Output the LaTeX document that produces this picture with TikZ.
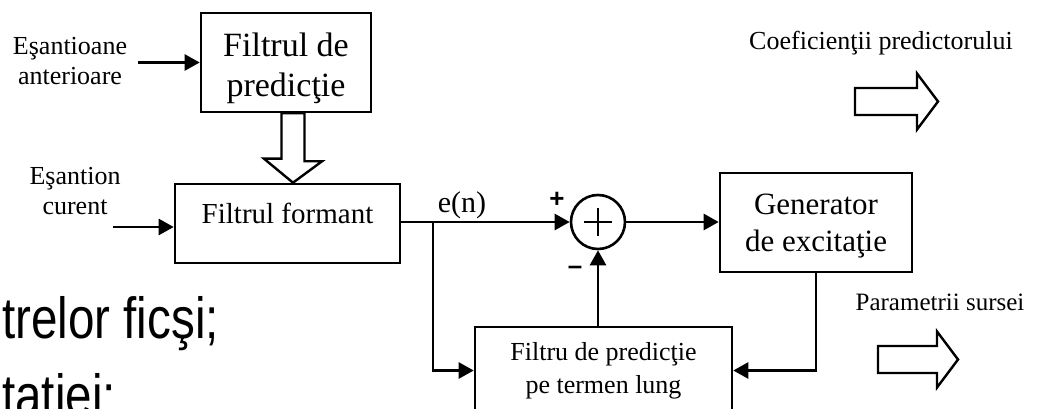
\documentclass[tikz,border=0pt]{standalone}
\usepackage{fontspec}
\usepackage{graphicx}
\setmainfont{Liberation Serif}
\newfontfamily\slidefont{Liberation Sans}
\usetikzlibrary{arrows.meta}

\tikzset{
  blk/.style={draw, line width=2.6pt, inner sep=0pt, align=center},
  sig/.style={line width=2.6pt, -{Triangle[length=15pt,width=16pt]}},
  hollow/.style={draw, line width=2.4pt, line join=miter},
  lbl/.style={align=center, inner sep=0pt, font=\fontsize{26}{30}\selectfont},
  sgn/.style={inner sep=0pt, font=\slidefont\bfseries\fontsize{26}{30}\selectfont},
}

\begin{document}
\begin{tikzpicture}[x=1pt,y=-1pt]
    \useasboundingbox (0,0) rectangle (1039,409);
    \clip (0,0) rectangle (1039,409);

    % slide text behind the diagram
    \node[anchor=base west, inner sep=0pt] (slideA) at (2,338)
        {\scalebox{0.82}[1]{\slidefont\fontsize{58}{70}\selectfont trelor ficşi;}};
    \node[anchor=base west, inner sep=0pt] (slideB) at (2,415)
        {\scalebox{0.82}[1]{\slidefont\fontsize{58}{70}\selectfont taţiei;}};

    % blocks
    \node[blk, minimum width=170pt, minimum height=99pt] (pred) at (286,62.5) {};
    \node[align=center, inner sep=0pt, font=\fontsize{34}{40}\selectfont] (predtxt) at (286,68.5) {Filtrul de\\predicţie};
    \node[blk, minimum width=225pt, minimum height=79pt] (form) at (287.5,223.5) {};
    \node[inner sep=0pt, font=\fontsize{29}{34}\selectfont] (formtxt) at (287.5,213) {Filtrul formant};
    \node[blk, minimum width=192pt, minimum height=99pt] (gen) at (816,222.5) {};
    \node[align=center, inner sep=0pt, font=\fontsize{31}{37}\selectfont] (gentxt) at (816,226.5) {Generator\\de excitaţie};
    \node[blk, minimum width=257pt, minimum height=87pt, font=\fontsize{26}{33}\selectfont] (ltp) at (603.5,370.5)
        {Filtru de predicţie\\pe termen lung};
    \node[draw, circle, line width=2.6pt, minimum size=54pt, inner sep=0pt] (sum) at (598,222) {};
    \draw[line width=2.6pt] ([xshift=-14pt]sum.center) -- ([xshift=14pt]sum.center);
    \draw[line width=2.6pt] ([yshift=-14pt]sum.center) -- ([yshift=14pt]sum.center);

    % inputs
    \node[lbl] (inprev) at (70,61) {Eşantioane\\anterioare};
    \node[lbl] (incur) at (75,191) {Eşantion\\curent};
    \coordinate (in1) at (138,62.5);
    \coordinate (in2) at (113,227);
    \draw[sig] (in1) -- (in1 -| pred.west);
    \draw[sig] (in2) -- (in2 -| form.west);

    % coefficients into the formant filter
    \coordinate (dtop) at ([xshift=7pt]pred.south);
    \draw[hollow] (dtop) ++(-11.5,0) -- ++(23,0) -- ++(0,48) -- ++(17.5,0)
        -- (dtop |- form.north) -- ++(-29,-24) -- ++(17.5,0) -- cycle;

    % error path and feedback
    \coordinate (br) at (433,222);
    \draw[sig] (form.east |- sum.west) -- (sum.west);
    \draw[sig] (br) |- (ltp.west);
    \draw[sig] (sum.east) -- (sum.east -| gen.west);
    \draw[sig] (gen.south) |- (ltp.east);
    \draw[sig] (sum.south |- ltp.north) -- (sum.south);
    \node[anchor=base, inner sep=0pt, font=\fontsize{30}{34}\selectfont] (err) at (462,212) {e(n)};
    \node[sgn] (plus) at (557,200) {+};
    \node[sgn] (minus) at (575,270) {–};

    % outputs
    \node[anchor=base, inner sep=0pt, font=\fontsize{26}{30}\selectfont] (coef) at (881,50) {Coeficienţii predictorului};
    \node[anchor=base, inner sep=0pt, font=\fontsize{25}{30}\selectfont] (src) at (940,310) {Parametrii sursei};
    \foreach \ax/\ay/\al in {855/101.5/62, 878/359.5/59} {
        \draw[hollow] (\ax,\ay-13.5) -- ++(\al,0) -- ++(0,-14.5) -- ++(21,28)
            -- ++(-21,28) -- ++(0,-14.5) -- ++(-\al,0) -- cycle;
    }
\end{tikzpicture}
\end{document}
